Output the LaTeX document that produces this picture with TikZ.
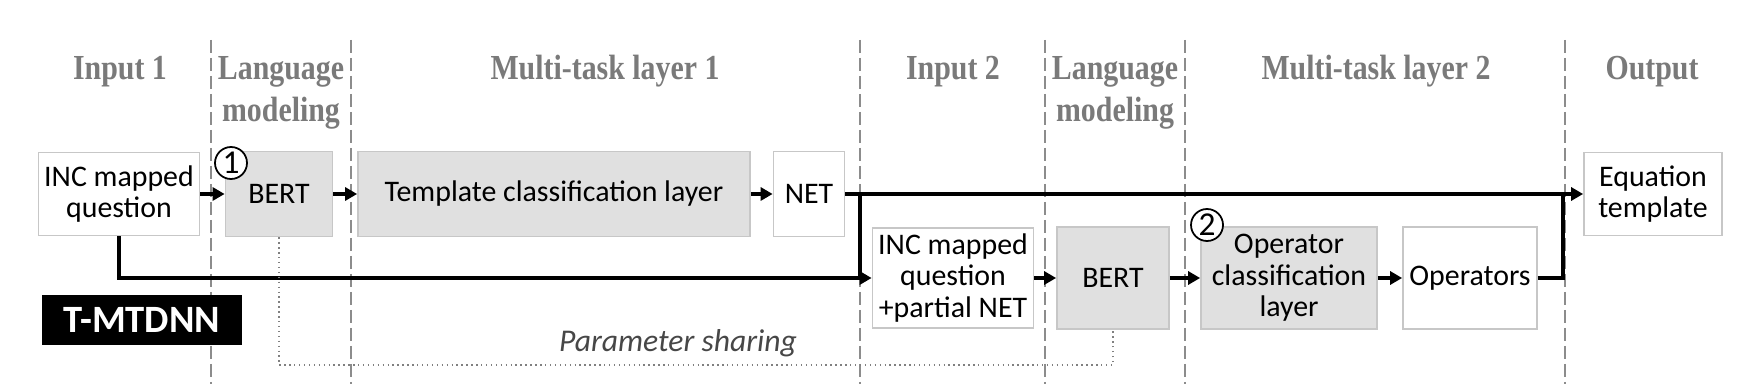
\documentclass[tikz,border=0pt]{standalone}
\usepackage{fontspec}
\setmainfont{Carlito}
\newfontfamily\headfont[FakeStretch=0.85]{Liberation Serif}
\usetikzlibrary{arrows.meta}

\begin{document}
\begin{tikzpicture}[x=0.1mm,y=-0.1mm,font=\fontsize{8.5}{9}\selectfont,
  box/.style={draw=black!22,line width=0.5pt,fill=white,inner sep=0pt,align=center},
  graybox/.style={box,fill=black!12},
  head/.style={font=\headfont\bfseries\fontsize{10}{12}\selectfont,text=black!52,align=center,anchor=base},
  sep/.style={black!45,line width=0.6pt,dash pattern=on 1.3mm off 0.5mm},
  flow/.style={line width=0.9pt,-{Triangle[length=1.2mm,width=1.3mm]}},
  wire/.style={line width=0.9pt},
  share/.style={black!50,densely dotted,line width=0.4pt},
  num/.style={circle,draw,fill=white,line width=0.5pt,inner sep=0pt,minimum size=3.2mm,font=\fontsize{9.5}{10}\selectfont}]
\useasboundingbox (0,0) rectangle (1740,384);
\foreach \x in {211,351,860,1045,1185,1565} \draw[sep] (\x,40) -- (\x,384);
\node[head] (hin1) at (120,80) {Input 1};
\node[head] (hlm1) at (281,122) {Language\\modeling};
\node[head] (hmt1) at (605,80) {Multi-task layer 1};
\node[head] (hin2) at (953,80) {Input 2};
\node[head] (hlm2) at (1115,122) {Language\\modeling};
\node[head] (hmt2) at (1376,80) {Multi-task layer 2};
\node[head] (hout) at (1652,80) {Output};
\node[box,minimum width=16.1mm,minimum height=8.3mm] (in1) at (119,194) {INC mapped\\question};
\node[graybox,minimum width=10.7mm,minimum height=8.5mm] (bert1) at (279,194) {BERT};
\node[graybox,minimum width=39.2mm,minimum height=8.5mm] (tcl) at (554,194) {Template classification layer};
\node[box,minimum width=7.1mm,minimum height=8.5mm] (net) at (809,194) {NET};
\node[box,minimum width=13.8mm,minimum height=8.3mm] (eqt) at (1653,194) {Equation\\template};
\node[box,minimum width=16.1mm,minimum height=10mm] (in2) at (953,278) {INC mapped\\question\\+partial NET};
\node[graybox,minimum width=11.2mm,minimum height=10.2mm] (bert2) at (1113,278) {BERT};
\node[graybox,minimum width=17.6mm,minimum height=10.2mm] (opc) at (1289,278) {Operator\\classification\\layer};
\node[box,minimum width=13.4mm,minimum height=10.2mm] (ops) at (1470,278) {Operators};
\node[fill=black,text=white,font=\bfseries\fontsize{11}{12}\selectfont,minimum width=20mm,minimum height=5mm,inner sep=0pt] (tag) at (142,320) {T-MTDNN};
\node[num] (c1) at (231,163) {1};
\node[num] (c2) at (1207,225) {2};
\draw[flow] (in1) -- (bert1);
\draw[flow] (bert1) -- (tcl);
\draw[flow] (tcl) -- (net);
\draw[flow] (net) -- (eqt);
\coordinate (fork) at (860,194);
\draw[wire] (fork) -- (fork |- in2.west);
\draw[flow] (in1.south) |- (in2.west);
\draw[flow] (in2) -- (bert2);
\draw[flow] (bert2) -- (opc);
\draw[flow] (opc) -- (ops);
\coordinate (join) at (1563,194);
\draw[wire] (ops.east) -| (join);
\coordinate (shr) at (678,365);
\draw[share] (bert1.south) |- (shr) -| (bert2.south);
\node[font=\itshape\fontsize{9}{10}\selectfont,text=black!72] (shlbl) at (678,343) {Parameter sharing};
\end{tikzpicture}
\end{document}
